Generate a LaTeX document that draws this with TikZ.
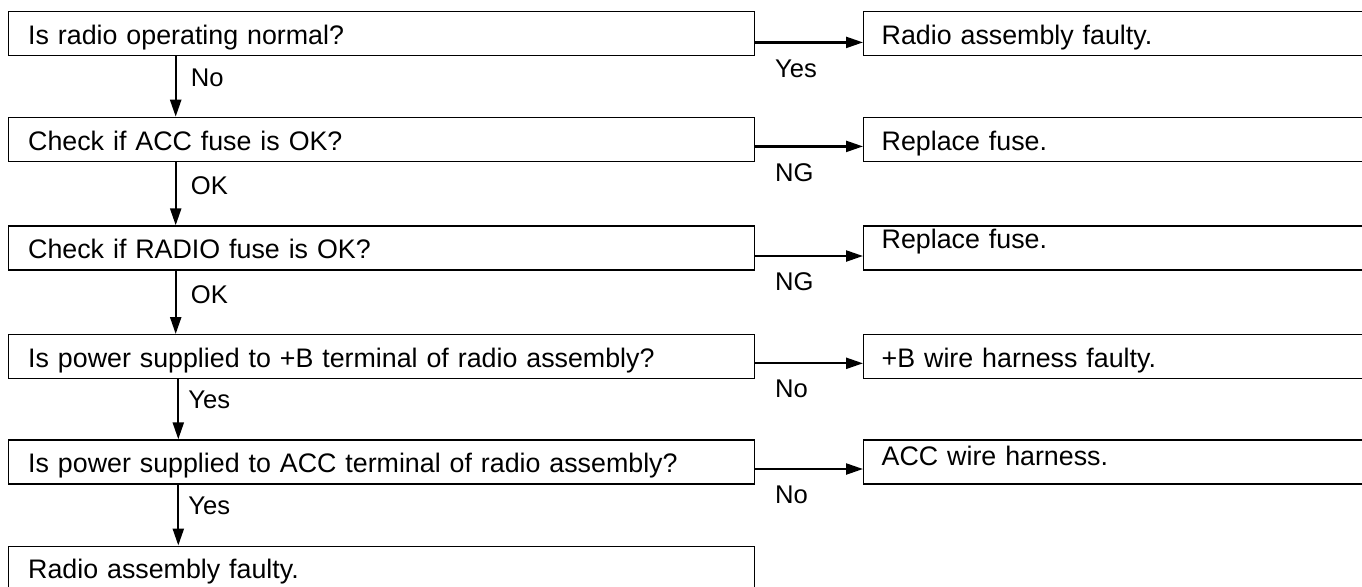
\documentclass[tikz,border=0pt]{standalone}
\usepackage{fontspec}
\setmainfont{Liberation Sans}
\usetikzlibrary{arrows.meta,positioning,calc}
\tikzset{
  stepbox/.style={draw, line width=0.7pt, anchor=north west, align=left,
    inner xsep=10pt, inner ysep=0pt, minimum height=22pt,
    text height=11.3pt, text depth=0.6pt, font=\fontsize{13.4}{15}\selectfont},
  askbox/.style={stepbox, text width=353pt},
  fixbox/.style={stepbox, inner xsep=9pt, text width=245pt},
  flowln/.style={-{Triangle[length=8.5pt,width=5.5pt]}, line width=1.15pt},
  flowlab/.style={inner sep=0pt, font=\fontsize{12.8}{14}\selectfont},
}
\newcommand{\liftup}[2]{\raisebox{#1}[\height][\depth]{#2}}

\begin{document}
\begin{tikzpicture}[x=0.5pt, y=-0.5pt]
    \useasboundingbox (0,0) rectangle (1362,586);
    % question column
    \node[askbox] (q1) at (7.5,10.7) {Is radio operating normal?};
    \node[askbox] (q2) at (7.5,116.7) {Check if ACC fuse is OK?};
    \node[askbox] (q3) at (7.5,225.3) {Check if RADIO fuse is OK?};
    \node[askbox] (q4) at (7.5,334) {Is power supplied to +B terminal of radio assembly?};
    \node[askbox] (q5) at (7.5,439.3) {Is power supplied to ACC terminal of radio assembly?};
    \node[askbox] (q6) at (7.5,545.5) {Radio assembly faulty.};
    % result column
    \node[fixbox] (r1) at (863,10.7) {Radio assembly faulty.};
    \node[fixbox] (r2) at (863,116.7) {Replace fuse.};
    \node[fixbox] (r3) at (863,225.3) {\liftup{5pt}{Replace fuse.}};
    \node[fixbox] (r4) at (863,334) {+B wire harness faulty.};
    \node[fixbox] (r5) at (863,439.3) {\liftup{3.8pt}{ACC wire harness.}};
    \coordinate (spineA) at (175.7,0);
    \coordinate (spineB) at (178.3,0);
    % downward flow
    \draw[flowln] (q1.south -| spineA) -- (q2.north -| spineA)
      node[flowlab, pos=0.36, right=7pt] {No};
    \draw[flowln] (q2.south -| spineA) -- (q3.north -| spineA)
      node[flowlab, pos=0.38, right=7pt] {OK};
    \draw[flowln] (q3.south -| spineA) -- (q4.north -| spineA)
      node[flowlab, pos=0.38, right=7pt] {OK};
    \draw[flowln] (q4.south -| spineB) -- (q5.north -| spineB)
      node[flowlab, pos=0.34, right=4.5pt] {Yes};
    \draw[flowln] (q5.south -| spineB) -- (q6.north -| spineB)
      node[flowlab, pos=0.34, right=4.5pt] {Yes};
    % sideways flow
    \foreach \i/\lab/\dy in {1/Yes/4.5, 2/NG/3.5, 3/NG/4, 4/No/3.3, 5/No/3.5} {
      \draw[flowln] ([yshift=-\dy pt]q\i.east) -- ([yshift=-\dy pt]r\i.west)
        node[flowlab, at start, anchor=west, xshift=9.5pt, yshift=-13pt] {\lab};
    }
\end{tikzpicture}
\end{document}
